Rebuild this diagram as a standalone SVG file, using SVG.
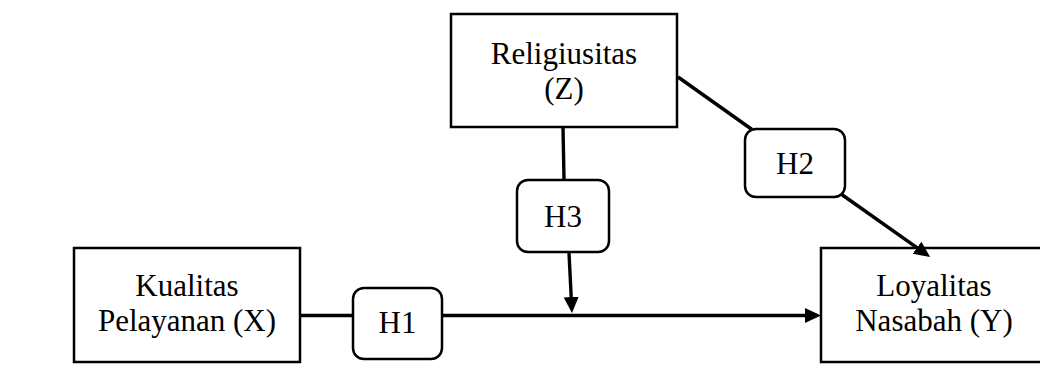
<svg xmlns="http://www.w3.org/2000/svg" width="1040" height="376" viewBox="0 0 1040 376">
<style>
.box{fill:#fff;stroke:#000;stroke-width:2.5}
.hyp{fill:#fff;stroke:#000;stroke-width:2.5}
.lbl{font-family:"Liberation Serif","Times New Roman",serif;font-size:31px;fill:#000;text-anchor:middle}
.con{fill:none;stroke:#000;stroke-width:3.4}
</style>
<defs>
<marker id="arr" markerUnits="userSpaceOnUse" markerWidth="18" markerHeight="18" refX="12" refY="7.5" orient="auto">
<path d="M0,0 L16,7.5 L0,15 z" fill="#000"/>
</marker>
</defs>
<rect width="1040" height="376" fill="#fff"/>
<g id="religiusitas">
<rect class="box" x="451" y="14" width="226" height="113"/>
<text class="lbl" x="564" y="64">Religiusitas</text>
<text class="lbl" x="564" y="99">(Z)</text>
</g>
<g id="kualitas">
<rect class="box" x="74" y="248" width="226" height="114"/>
<text class="lbl" x="187" y="296">Kualitas</text>
<text class="lbl" x="187" y="331">Pelayanan (X)</text>
</g>
<g id="loyalitas">
<rect class="box" x="821" y="248" width="226" height="114"/>
<text class="lbl" x="934" y="296">Loyalitas</text>
<text class="lbl" x="934" y="331">Nasabah (Y)</text>
</g>
<g id="h1">
<rect class="hyp" x="353" y="288" width="89" height="71" rx="11"/>
<text class="lbl" x="397.5" y="333">H1</text>
</g>
<g id="h3">
<rect class="hyp" x="517" y="180" width="92" height="72" rx="11"/>
<text class="lbl" x="563" y="227">H3</text>
</g>
<g id="h2">
<rect class="hyp" x="745" y="129" width="100" height="68" rx="11"/>
<text class="lbl" x="795" y="174">H2</text>
</g>
<g id="connectors">
<line class="con" x1="301" y1="315.5" x2="352" y2="315.5"/>
<line class="con" x1="443" y1="315.5" x2="817" y2="315.5" marker-end="url(#arr)"/>
<line class="con" x1="563" y1="128" x2="564" y2="179"/>
<line class="con" x1="569" y1="253" x2="571.8" y2="309" marker-end="url(#arr)"/>
<line class="con" x1="678" y1="77" x2="752" y2="129.5"/>
<line class="con" x1="841" y1="194" x2="926.8" y2="254.6" marker-end="url(#arr)"/>
</g>
</svg>
